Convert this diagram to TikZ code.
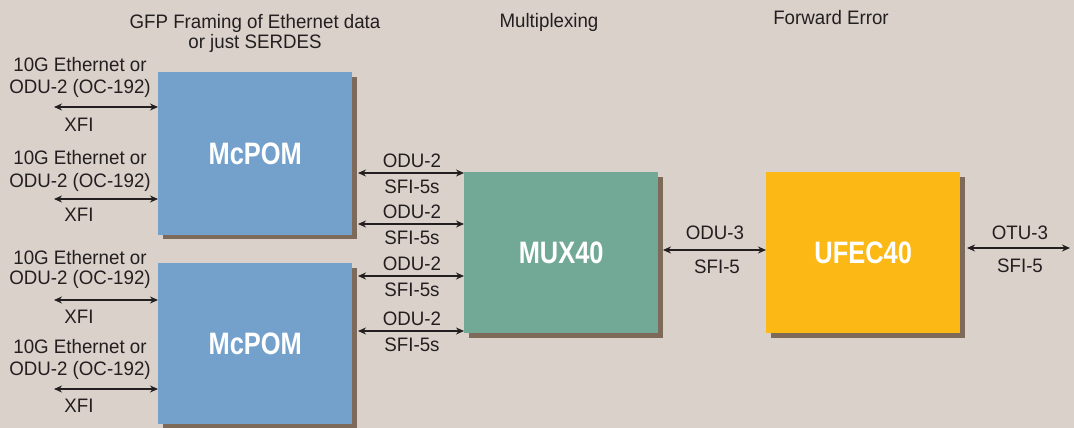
\documentclass[tikz,border=0pt]{standalone}
\usepackage{fontspec}
\setmainfont{Liberation Sans}[FakeStretch=0.96]
\newfontfamily\boxfont[FakeStretch=0.82]{Liberation Sans}
\usetikzlibrary{arrows.meta}
\definecolor{bgc}{HTML}{DBD1CB}
\definecolor{shadowc}{HTML}{7D6A58}
\definecolor{txtc}{HTML}{231F20}
\definecolor{bluec}{HTML}{74A0CC}
\definecolor{greenc}{HTML}{72A896}
\definecolor{yellowc}{HTML}{FCB814}
\tikzset{
  lbl/.style={text=txtc, font=\fontsize{19.5}{21}\selectfont, inner sep=0pt, anchor=center},
  blk/.style={minimum width=194pt, minimum height=161pt, inner sep=0pt, text=white,
     font=\boxfont\bfseries\fontsize{31}{33}\selectfont},
  shd/.style={fill=shadowc, draw=none},
  link/.style={draw=txtc, line width=2pt, {Stealth[length=8pt,width=7pt]}-{Stealth[length=8pt,width=7pt]}}
}
\begin{document}
\begin{tikzpicture}[x=1pt,y=-1pt]
\fill[bgc] (0,0) rectangle (1074,428);
\useasboundingbox (0,0) rectangle (1074,428);
% shadows
\fill[shd] (163,77) rectangle (357,239);
\fill[shd] (163,268) rectangle (357,428);
\fill[shd] (469,177) rectangle (663,338);
\fill[shd] (771,177) rectangle (965,338);
% blocks
\node[blk, fill=bluec, minimum height=163pt, anchor=north west] (m1) at (158,72) {McPOM};
\node[blk, fill=bluec, minimum height=161pt, anchor=north west] (m2) at (158,263) {McPOM};
\node[blk, fill=greenc, anchor=north west] (mux) at (464,172) {MUX40};
\node[blk, fill=yellowc, anchor=north west] (fec) at (766,172) {UFEC40};
% headers
\node[lbl, align=center] (h1) at (255,33) {GFP Framing of Ethernet data\\[-1pt]or just SERDES};
\node[lbl] (h2) at (549,22) {Multiplexing};
\node[lbl] (h3) at (831,18) {Forward Error};
% left inputs
\foreach \i/\ya/\yb/\yarr/\yx in {1/65/88/107/125, 2/158/182/199/215, 3/258/279/300/317, 4/347/370/389/406}{
  \node[lbl] (e\i) at (80,\ya) {10G Ethernet or};
  \node[lbl] (o\i) at (80,\yb) {ODU-2 (OC-192)};
  \node[lbl] (x\i) at (79,\yx) {XFI};
  \coordinate (in\i) at (54,\yarr);
}
\draw[link] (in1) -- (in1 -| m1.west);
\draw[link] (in2) -- (in2 -| m1.west);
\draw[link] (in3) -- (in3 -| m2.west);
\draw[link] (in4) -- (in4 -| m2.west);
% middle links
\foreach \i/\yarr in {1/173, 2/224, 3/276, 4/331}{
  \coordinate (s\i) at (358,\yarr);
  \node[lbl] (u\i) at (412,\yarr-12.5) {ODU-2};
  \node[lbl] (f\i) at (412,\yarr+14) {SFI-5s};
}
\draw[link] (s1) -- (s1 -| mux.west);
\draw[link] (s2) -- (s2 -| mux.west);
\draw[link] (s3) -- (s3 -| mux.west);
\draw[link] (s4) -- (s4 -| mux.west);
% mux to fec
\coordinate (mx) at (663,250);
\draw[link] (mx) -- (mx -| fec.west);
\node[lbl] (odu3) at (715,233) {ODU-3};
\node[lbl] (sfi5a) at (717,267) {SFI-5};
% output
\coordinate (fo) at (967,248);
\coordinate (out) at (1070,248);
\draw[link] (fo) -- (out);
\node[lbl] (otu3) at (1020,233) {OTU-3};
\node[lbl] (sfi5b) at (1020,266) {SFI-5};
\end{tikzpicture}
\end{document}
